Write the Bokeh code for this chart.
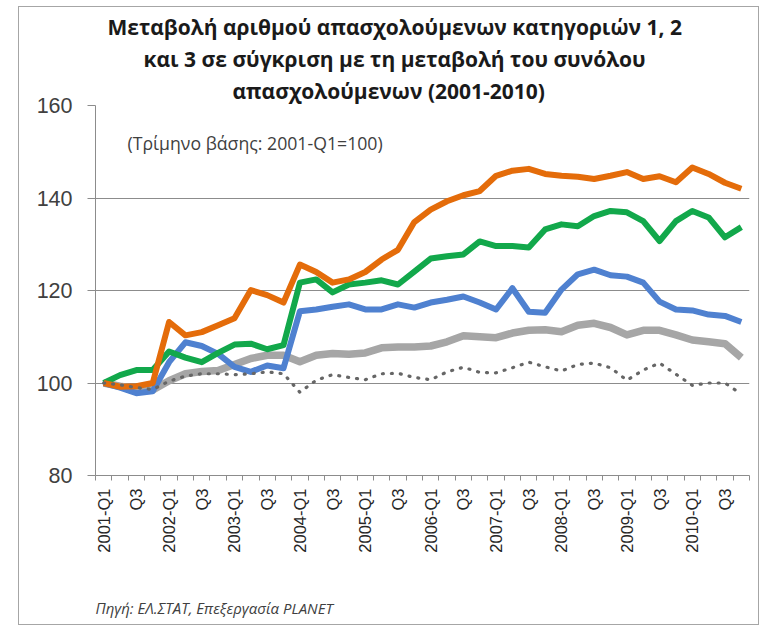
import numpy as np
from bokeh.plotting import figure
from bokeh.models import FixedTicker, Label, Range1d, Title
from bokeh.embed import file_html
from bokeh.resources import INLINE

years = ["2001", "2002", "2003", "2004", "2005", "2006", "2007", "2008", "2009", "2010"]
quarters = [f"{y}-Q{q}" for y in years for q in (1, 2, 3, 4)]
tick_labels = [f"{y}-Q1" if q == 1 else ("Q3" if q == 3 else "") for y in years for q in (1, 2, 3, 4)]

orange = [100, 99.2, 99.3, 100, 113.2, 110.3, 111, 112.5, 114, 120.1, 119, 117.4,
          125.6, 124, 121.7, 122.4, 124, 126.7, 128.8, 134.8, 137.5, 139.3, 140.6, 141.5,
          144.8, 145.9, 146.3, 145.2, 144.8, 144.6, 144.1, 144.8, 145.6, 144.1, 144.7, 143.4,
          146.6, 145.2, 143.3, 142]
green = [100, 101.7, 102.8, 102.8, 106.8, 105.5, 104.5, 106.5, 108.3, 108.5, 107.3, 108.2,
         121.7, 122.4, 119.6, 121.3, 121.7, 122.2, 121.3, 124.1, 126.9, 127.4, 127.8, 130.6,
         129.6, 129.6, 129.3, 133.2, 134.3, 133.9, 136.1, 137.2, 136.9, 135, 130.7, 135,
         137.2, 135.8, 131.5, 133.7]
blue = [100, 99, 97.8, 98.2, 104.5, 108.8, 108, 106.3, 103.5, 102.4, 103.8, 103.2,
        115.5, 115.9, 116.5, 117, 115.9, 115.9, 117, 116.3, 117.4, 118, 118.7, 117.4,
        115.9, 120.5, 115.4, 115.2, 120.2, 123.5, 124.5, 123.3, 123, 121.7, 117.6, 115.9,
        115.7, 114.8, 114.5, 113.2]
gray = [100, 99.3, 98.8, 98.5, 100.5, 102, 102.5, 102.7, 104, 105.3, 106, 106,
        104.6, 106, 106.4, 106.2, 106.5, 107.6, 107.8, 107.8, 108, 108.9, 110.2, 110,
        109.8, 110.8, 111.4, 111.5, 111.1, 112.5, 112.9, 112, 110.4, 111.4, 111.4, 110.4,
        109.3, 108.9, 108.5, 105.5]
total = [100, 99.6, 99, 98.6, 100.4, 101.5, 102, 102, 101.8, 102, 102.4, 102,
         98, 100.6, 101.8, 101.2, 100.7, 102, 102.1, 101.2, 100.7, 102.4, 103.4, 102.3,
         102.2, 103.3, 104.5, 103.5, 102.6, 104, 104.3, 103.3, 100.6, 102.8, 104.3, 101.9,
         99.5, 100, 100, 97.6]
y_ticks = [80, 100, 120, 140, 160]

title_lines = ["Μεταβολή αριθμού απασχολούμενων κατηγοριών 1, 2",
               "και 3 σε σύγκριση με τη μεταβολή του συνόλου",
               "απασχολούμενων (2001-2010)"]
note = "(Τρίμηνο βάσης: 2001-Q1=100)"
source = "Πηγή: ΕΛ.ΣΤΑΤ, Επεξεργασία PLANET"

n = len(quarters)
x = np.arange(n) + 0.5

p = figure(width=741, height=619, x_range=Range1d(0, n), y_range=Range1d(y_ticks[0], y_ticks[-1]),
           output_backend="svg", toolbar_location=None,
           min_border_left=76, min_border_right=11, min_border_top=98, min_border_bottom=151)
p.margin = (6, 0, 0, 18)
p.styles = {"border": "1px solid #a6a6a6"}
p.outline_line_color = None
p.background_fill_color = "white"
p.border_fill_color = "white"

axis_color = "#8c8c8c"
xa = p.xaxis[0]
xa.ticker = FixedTicker(ticks=list(x), minor_ticks=list(np.arange(n + 1)))
xa.major_label_overrides = {float(xi): lab for xi, lab in zip(x, tick_labels)}
xa.major_label_orientation = np.pi / 2
xa.major_tick_out = 0
xa.major_tick_in = 0
xa.minor_tick_out = 5
xa.minor_tick_in = 0
xa.minor_tick_line_color = axis_color
xa.axis_line_color = axis_color
xa.major_label_text_font = "Liberation Sans"
xa.major_label_text_font_size = "16.5px"
xa.major_label_text_color = "#262626"
xa.major_label_standoff = 8
p.xgrid.visible = False

ya = p.yaxis[0]
ya.ticker = FixedTicker(ticks=y_ticks)
ya.major_tick_out = 8
ya.major_tick_in = 0
ya.minor_tick_line_color = None
ya.axis_line_color = axis_color
ya.major_tick_line_color = axis_color
ya.major_label_text_font = "Liberation Sans"
ya.major_label_text_font_size = "21.5px"
ya.major_label_text_color = "#404040"
ya.major_label_standoff = 15
p.ygrid.ticker = FixedTicker(ticks=y_ticks)
p.ygrid.grid_line_color = axis_color

p.line(x, gray, line_color="#a6a6a6", line_width=7.5, line_join="round")
p.line(x, blue, line_color="#4f81d0", line_width=6, line_join="round")
p.line(x, green, line_color="#12a84b", line_width=6, line_join="round")
p.line(x, orange, line_color="#e46c0a", line_width=6, line_join="round")
p.line(x, total, line_color="#666666", line_width=3.2, line_dash="1 8", line_cap="round")

# title lines: the first one added sits closest to the plot
for txt, off in zip(reversed(title_lines), [137, 48, 12]):
    p.add_layout(Title(text=txt, align="left", offset=off, standoff=2,
                       text_font="Open Sans", text_font_style="bold",
                       text_font_size="21px", text_color="#1a1a1a"), "above")

# blank spacer between the tick labels and the source line
p.add_layout(Title(text=" ", align="left", standoff=20, text_font="Open Sans",
                   text_font_size="12px"), "below")
p.add_layout(Title(text=source, align="left", offset=0, standoff=2,
                   text_font="Open Sans", text_font_style="italic",
                   text_font_size="15px", text_color="#404040"), "below")

p.add_layout(Label(x=32, y=333, x_units="screen", y_units="screen", text=note,
                   text_align="left", text_baseline="middle",
                   text_font="Open Sans", text_font_size="17.7px", text_color="#404040"))

open("out.html", "w").write(file_html(p, INLINE))
